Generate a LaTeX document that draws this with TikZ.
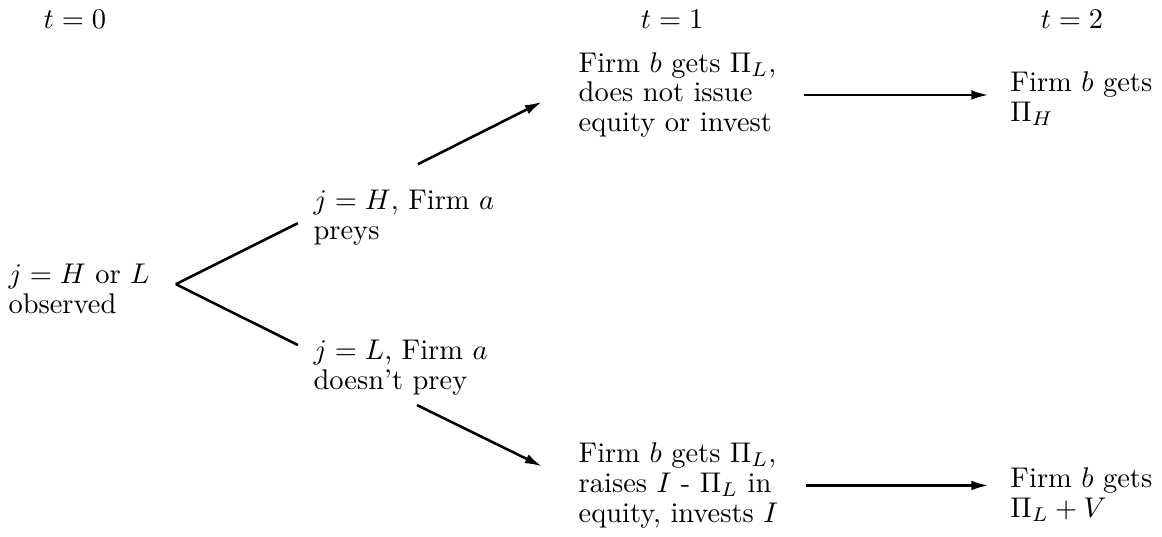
\documentclass[tikz,border=0pt]{standalone}
\usepackage{amsmath}
\usetikzlibrary{arrows.meta}

\begin{document}
\begin{tikzpicture}[x=1pt,y=1pt,
  lbl/.style={anchor=base west,align=left,inner sep=0pt,font=\fontsize{10}{10.5}\selectfont},
  hdr/.style={anchor=base,inner sep=0pt,font=\fontsize{10}{10.5}\selectfont},
  branch/.style={line width=.9pt},
  flow/.style={line width=.9pt,-{Latex[length=6pt,width=3.4pt]}}]
\useasboundingbox (0,0) rectangle (408,188.2);
% time axis
\node[hdr] (t0) at (26.3,178.2) {$t = 0$};
\node[hdr] (t1) at (236.0,178.2) {$t = 1$};
\node[hdr] (t2) at (376.4,178.2) {$t = 2$};
% t = 0
\node[lbl] (obs) at (2.8,78.3) {$j = H$ or $L$\\observed};
% state of the world
\node[lbl] (hprey) at (109.9,104.0) {$j = H$, Firm $a$\\preys};
\node[lbl] (lprey) at (109.9,51.3) {$j = L$, Firm $a$\\doesn't prey};
% t = 1
\node[lbl] (topmid) at (203.0,141.9) {Firm $b$ gets $\Pi_L$,\\does not issue\\equity or invest};
\node[lbl] (botmid) at (203.0,4.8) {Firm $b$ gets $\Pi_L$,\\raises $I$ - $\Pi_L$ in\\equity, invests $I$};
% t = 2
\node[lbl] (toppay) at (354.6,145.7) {Firm $b$ gets\\$\Pi_H$};
\node[lbl] (botpay) at (354.6,6.6) {Firm $b$ gets\\$\Pi_L + V$};
% branches
\coordinate (fork) at ([xshift=9pt,yshift=1.5pt]obs.east);
\draw[branch] (fork) -- ([xshift=-5.3pt,yshift=-1.8pt]hprey.west);
\draw[branch] (fork) -- ([xshift=-5.3pt,yshift=8.1pt]lprey.west);
\draw[flow] ([xshift=4.9pt,yshift=9pt]hprey.north) -- ([xshift=-12.7pt,yshift=-2.4pt]topmid.west);
\draw[flow] ([xshift=5.8pt,yshift=-3.1pt]lprey.south) -- ([xshift=-12.7pt,yshift=6.7pt]botmid.west);
\draw[flow,shorten <=9.6pt,shorten >=7.5pt] (topmid.east) -- (topmid.east -| toppay.west);
\draw[flow,shorten <=9.6pt,shorten >=7.5pt] (botmid.east) -- (botmid.east -| botpay.west);
\end{tikzpicture}
\end{document}
